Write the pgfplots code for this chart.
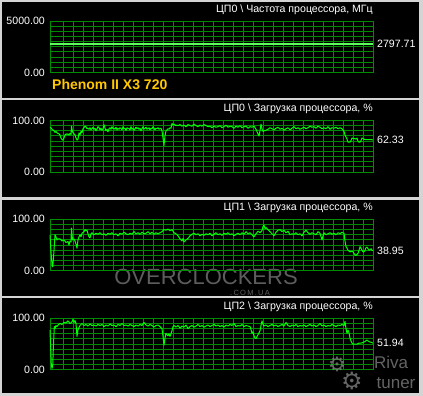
\documentclass[border=0pt]{standalone}
\usepackage{fontspec}
\setmainfont{Liberation Sans}
\newfontfamily\djv{DejaVu Sans}
\usepackage{pgfplots}
\pgfplotsset{compat=1.18}
\definecolor{gridg}{RGB}{0,140,0}
\definecolor{lineg}{RGB}{0,255,0}
\definecolor{frameg}{RGB}{212,212,212}
\definecolor{gold}{RGB}{255,200,0}
\definecolor{wm}{RGB}{125,125,125}
\newcommand{\sm}{\fontsize{10.6bp}{12bp}\selectfont}
\pgfplotsset{rt/.style={
  scale only axis, width=323bp, height=51.6bp,
  anchor=north west,
  xmin=0,xmax=323, ymin=0,ymax=100,
  clip=false,
  axis line style={gridg,line width=1bp},
  xtick={13,23,...,323}, xticklabels={},
  ytick={0,10,...,100},
  yticklabels={0.00,,,,,,,,,,100.00},
  major tick length=0pt,
  grid=major,
  major grid style={gridg,line width=1bp},
  tick label style={white,font=\sm},
  yticklabel style={inner sep=0pt, xshift=-5bp},
  /pgf/number format/assume math mode=true,
}}
\tikzset{ld/.style={color=lineg,line width=1bp,line join=round,mark=none}}
\begin{document}
\begin{tikzpicture}
\fill[frameg] (0,0) rectangle (423bp,-396bp);
\fill[black] (2bp,-2bp) rectangle (418.5bp,-97.5bp);
\fill[black] (2bp,-100bp) rectangle (418.5bp,-197bp);
\fill[black] (2bp,-199.5bp) rectangle (418.5bp,-295.5bp);
\fill[black] (2bp,-298bp) rectangle (418.5bp,-392.5bp);

% watermarks (drawn under the panels' grids)
\node[inner sep=0pt, text=wm, opacity=0.75, font=\fontsize{22bp}{22bp}\selectfont] at (206bp,-277bp) {OVERCLOCKERS};
\node[inner sep=0pt, text=wm, opacity=0.75, font=\fontsize{7.5bp}{8bp}\selectfont] at (250bp,-292.5bp) {.\,C\,O\,M\,.\,U\,A};

% Panel 1
\begin{axis}[rt, at={(50bp,-21bp)}, ymax=5000, ytick={0,500,...,5000},
  yticklabels={0.00,,,,,,,,,,5000.00}]
\addplot[mark=none, color={rgb,255:red,90;green,255;blue,90}, line width=1.6bp] coordinates {(0,2797.71)(323,2797.71)};
\node[anchor=base east, white, inner sep=0pt, font=\sm, yshift=8.8bp] at (rel axis cs:1,1) {ЦП0 \textbackslash{} Частота процессора, МГц};
\node[anchor=west, white, inner sep=0pt, font=\sm, xshift=4bp] at (axis cs:323,2797.71) {2797.71};
\end{axis}
\node[anchor=west, inner sep=0pt, text=gold, font=\bfseries\fontsize{14bp}{16bp}\selectfont] at (52bp,-85bp) {Phenom II X3 720};

% Panel 2
\begin{axis}[rt, at={(50bp,-120.5bp)}]
\addplot[ld] coordinates {(0,86)(1,86)(2,83)(4,80)(5,77)(6,79)(7,76)(8,75)(9,74)(10,72)(11,66)(12,63)(13,62)(14,66)(15,72)(16,74)(17,73)(18,74)(19,72)(20,75)(21,73)(21.5,89)(22.5,78)(24,74)(25,72)(26,66)(27,62)(28,64)(29,76)(30,72)(31,79)(32,76)(33,84)(34,86)(35,89)(36,88)(37,84)(38,85)(39,83)(40,86)(41,82)(42,84)(43,87)(44,83)(45,85)(46,80)(47,84)(48,88)(49,86)(50,82)(51,85)(52,81)(53,84)(54,92)(55,85)(56,80)(57,83)(58,78)(59,84)(60,86)(61,83)(62,88)(63,84)(64,85)(65,83)(66,87)(67,82)(68,85)(69,83)(70,86)(71,84)(72,82)(73,88)(74,84)(75,85)(76,81)(77,86)(78,85)(79,84)(80,82)(81,88)(82,83)(83,85)(84,81)(85,84)(86,87)(87,84)(88,86)(89,83)(90,85)(91,80)(92,84)(93,88)(94,83)(95,85)(96,87)(97,83)(98,84)(99,86)(100,82)(101,85)(102,84)(103,88)(104,85)(105,82)(106,85)(107,84)(108,86)(109,83)(110,84)(111,85)(112,80)(113,66)(114,52)(115,70)(116,80)(117,82)(118,84)(119,83)(120,86)(121,85)(122,94)(123,92)(124,93)(126,90)(127,91)(128,90)(130,92)(132,89)(134,91)(136,88)(138,92)(140,90)(142,89)(144,93)(146,90)(148,88)(150,91)(152,89)(154,92)(156,90)(158,88)(160,89)(162,86)(164,89)(166,87)(168,88)(170,90)(172,86)(174,88)(176,91)(178,87)(180,89)(182,88)(184,85)(186,89)(188,87)(190,90)(192,86)(194,88)(196,89)(198,85)(200,88)(202,87)(204,89)(206,83)(208,74)(209,70)(210,80)(211,93)(212,84)(213,79)(214,80)(216,81)(218,83)(220,86)(222,84)(224,82)(226,85)(228,87)(230,83)(232,85)(234,81)(236,84)(238,86)(240,82)(242,85)(244,88)(246,84)(248,86)(250,83)(252,85)(254,87)(256,84)(258,86)(260,89)(262,87)(264,88)(266,85)(268,89)(270,87)(272,84)(274,86)(276,84)(278,88)(280,83)(282,86)(284,85)(286,87)(288,84)(290,86)(292,84)(294,79)(295,72)(296,68)(297,64)(298,58)(300,58)(301,61)(302,66)(304,65)(306,64)(307,66)(308,60)(309,58)(310,58)(311,61)(312,66)(313,65)(315,63)(318,63)(321,63)(323,62.33)};
\node[anchor=base east, white, inner sep=0pt, font=\sm, yshift=8.8bp] at (rel axis cs:1,1) {ЦП0 \textbackslash{} Загрузка процессора, \%};
\node[anchor=west, white, inner sep=0pt, font=\sm, xshift=4bp] at (axis cs:323,62.33) {62.33};
\end{axis}

% Panel 3
\begin{axis}[rt, at={(50bp,-219.3bp)}]
\addplot[ld] coordinates {(0,70)(0.7,45)(1.3,30)(2,12)(2.7,8)(3.3,20)(4,40)(5,70)(6,66)(7,60)(8,62)(10,62)(12,58)(14,60)(16,55)(18,57)(19,50)(20,58)(21,56)(21.5,83)(22.5,60)(24,62)(25,58)(26,52)(27,44)(28,60)(29,66)(30,70)(31,66)(32,73)(34,76)(35,80)(36,78)(37,79)(38,72)(39,66)(40,64)(41,72)(42,74)(44,70)(46,73)(48,71)(50,74)(52,70)(54,72)(56,69)(58,73)(60,71)(62,74)(64,70)(66,72)(68,68)(70,73)(72,71)(74,75)(76,72)(78,70)(80,73)(82,71)(84,76)(86,72)(88,74)(90,71)(92,75)(94,72)(96,73)(98,76)(100,72)(102,75)(104,71)(106,74)(108,72)(110,74)(112,76)(114,80)(116,79)(118,81)(120,78)(122,80)(124,74)(126,72)(128,68)(130,62)(132,58)(133,63)(134,56)(136,60)(138,63)(140,68)(142,71)(144,73)(146,70)(148,72)(150,68)(152,71)(154,69)(156,72)(158,70)(160,73)(162,68)(164,71)(166,74)(168,70)(170,72)(172,69)(174,73)(176,71)(178,74)(180,70)(182,72)(184,68)(186,71)(188,73)(190,70)(192,74)(194,71)(196,76)(198,72)(200,74)(202,70)(204,66)(206,72)(208,77)(210,74)(212,78)(213,86)(214,89)(215,82)(216,84)(218,80)(220,76)(222,72)(224,68)(226,75)(228,79)(230,80)(232,76)(234,79)(236,74)(238,77)(240,70)(242,72)(244,71)(246,74)(248,70)(250,72)(252,68)(254,75)(256,79)(258,74)(260,71)(262,74)(264,72)(266,70)(268,76)(270,73)(272,60)(273,68)(274,74)(276,70)(278,72)(280,74)(282,71)(284,73)(286,70)(288,74)(290,72)(292,75)(294,73)(295,58)(296,47)(297,44)(298,40)(300,37)(302,38)(303,37)(304,34)(305,31)(306,30)(307,32)(308,34)(309,40)(310,47)(311,44)(312,40)(313,37)(314,37)(315,40)(316,45)(317,46)(318,43)(319,40)(320,41)(321,43)(322,40)(323,38.95)};
\node[anchor=base east, white, inner sep=0pt, font=\sm, yshift=8.8bp] at (rel axis cs:1,1) {ЦП1 \textbackslash{} Загрузка процессора, \%};
\node[anchor=west, white, inner sep=0pt, font=\sm, xshift=4bp] at (axis cs:323,38.95) {38.95};
\end{axis}

% Panel 4
\begin{axis}[rt, at={(50bp,-318.3bp)}]
\addplot[ld] coordinates {(0,77)(0.7,40)(1.3,10)(2,3)(2.7,8)(3.3,40)(4.3,84)(5,80)(6,86)(7,84)(8,87)(10,90)(12,88)(14,92)(16,91)(18,95)(20,90)(22,93)(23,98)(24,92)(25,96)(26,90)(27,65)(28,78)(29,82)(30,86)(32,90)(34,86)(36,88)(38,85)(40,89)(42,86)(44,87)(46,85)(48,88)(50,86)(52,88)(54,84)(56,87)(58,85)(60,89)(62,86)(64,87)(66,84)(68,88)(70,86)(72,90)(74,86)(76,87)(78,85)(80,88)(82,86)(84,84)(86,87)(88,85)(90,88)(92,86)(94,92)(96,87)(98,85)(100,88)(102,86)(104,83)(106,86)(108,87)(110,84)(112,80)(113,65)(114,48)(115,62)(116,71)(117,68)(118,66)(119,70)(120,65)(121,70)(122,76)(123,84)(124,86)(126,83)(128,86)(130,81)(132,85)(134,83)(136,87)(138,80)(140,84)(142,86)(144,83)(146,85)(148,88)(150,84)(152,86)(154,83)(156,85)(158,87)(160,84)(162,86)(164,88)(166,85)(168,87)(170,84)(172,86)(174,83)(176,87)(178,85)(180,88)(182,86)(184,90)(186,84)(188,86)(190,85)(192,88)(194,84)(196,86)(198,85)(200,84)(201,78)(202,71)(203,74)(204,66)(205,62)(206,61)(207,65)(208,68)(209,72)(210,76)(211,86)(212,95)(213,88)(214,85)(216,87)(218,84)(220,86)(222,88)(224,85)(226,87)(228,84)(230,86)(232,88)(234,85)(236,92)(238,86)(240,84)(242,87)(244,85)(246,88)(248,84)(250,86)(252,85)(254,87)(256,84)(258,86)(260,88)(262,85)(264,87)(266,84)(268,86)(270,90)(272,85)(274,87)(276,84)(278,86)(280,85)(282,88)(284,86)(286,84)(288,87)(290,86)(292,88)(294,86)(295,94)(296,80)(297,71)(298,77)(299,72)(300,62)(301,56)(302,52)(303,50)(305,50)(307,50)(309,52)(311,52)(313,53)(315,55)(317,58)(318,56)(320,54)(322,53)(323,51.94)};
\node[anchor=base east, white, inner sep=0pt, font=\sm, yshift=8.8bp] at (rel axis cs:1,1) {ЦП2 \textbackslash{} Загрузка процессора, \%};
\node[anchor=west, white, inner sep=0pt, font=\sm, xshift=4bp] at (axis cs:323,51.94) {51.94};
\end{axis}

% RivaTuner watermark
\node[inner sep=0pt, text=wm, opacity=0.8, font=\djv\fontsize{20bp}{20bp}\selectfont] at (337bp,-364bp) {⚙};
\node[inner sep=0pt, text=wm, opacity=0.8, font=\djv\fontsize{24bp}{24bp}\selectfont] at (352bp,-381bp) {⚙};
\node[inner sep=0pt, text=wm, opacity=0.8, font=\fontsize{17bp}{17bp}\selectfont] at (391bp,-362bp) {Riva};
\node[inner sep=0pt, text=wm, opacity=0.8, font=\fontsize{17bp}{17bp}\selectfont] at (396bp,-383.5bp) {tuner};
\end{tikzpicture}
\end{document}
